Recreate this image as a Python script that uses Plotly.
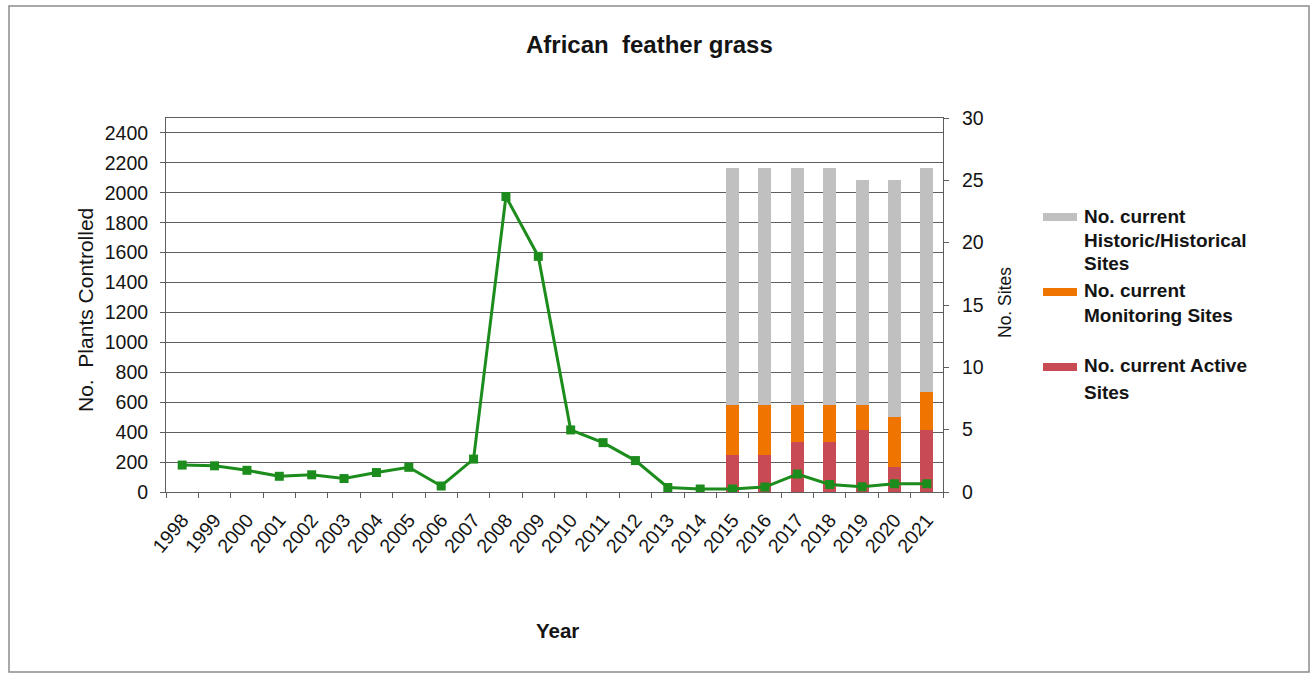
import plotly.graph_objects as go

# ---- data ----
years = [str(y) for y in range(1998, 2022)]
plants_controlled = [180, 175, 145, 105, 115, 90, 130, 165, 40, 220, 1975, 1575,
                     415, 330, 210, 30, 20, 20, 33, 120, 50, 35, 55, 55]

site_years = [str(y) for y in range(2015, 2022)]
active_sites = [3, 3, 4, 4, 5, 2, 5]
monitoring_sites = [4, 4, 3, 3, 2, 4, 3]
historic_sites = [19, 19, 19, 19, 18, 19, 18]

left_ticks = list(range(0, 2401, 200))
right_ticks = list(range(0, 31, 5))

# ---- styling ----
W, H = 1313, 675
PL, PR, PT, PB = 166, 943, 118, 492          # plot area in pixels
FONT = "Liberation Sans, Arial, sans-serif"
INK = "#141414"
GRID = "#5e5e5e"
C_HIST = "#c0c0c0"
C_MON = "#f07400"
C_ACT = "#c84a54"
C_LINE = "#1c8c1c"


def px(x):
    return (x - PL) / (PR - PL)


def py(y):
    return (PB - y) / (PB - PT)


fig = go.Figure()

# stacked site bars (right axis)
for name, vals, col in [
    ("No. current Active Sites", active_sites, C_ACT),
    ("No. current Monitoring Sites", monitoring_sites, C_MON),
    ("No. current Historic/Historical Sites", historic_sites, C_HIST),
]:
    fig.add_trace(go.Bar(x=site_years, y=vals, name=name, marker_color=col,
                         marker_line_width=0, width=0.4, yaxis="y",
                         showlegend=False))

# plants controlled line (left axis)
fig.add_trace(go.Scatter(x=years, y=plants_controlled, name="No. Plants Controlled",
                         mode="lines+markers", yaxis="y2",
                         line=dict(color=C_LINE, width=3),
                         marker=dict(symbol="square", size=9, color=C_LINE),
                         showlegend=False))

tickfont = dict(family=FONT, size=19.5, color=INK)

fig.update_layout(
    width=W, height=H,
    margin=dict(l=PL, r=W - PR, t=PT, b=H - PB),
    paper_bgcolor="white", plot_bgcolor="white",
    barmode="stack",
    showlegend=False,
    xaxis=dict(type="category", categoryorder="array", categoryarray=years,
               range=[-0.5, len(years) - 0.5],
               tickson="boundaries", ticks="outside", ticklen=5,
               tickcolor=GRID, showline=True, linecolor=GRID, linewidth=1,
               mirror=True, showgrid=False, tickangle=-50, tickfont=tickfont,
               ticklabelstandoff=8),
    yaxis=dict(side="right", range=[0, 30], tickvals=right_ticks,
               ticks="outside", ticklen=5, tickcolor=GRID, showline=True,
               linecolor=GRID, linewidth=1, showgrid=False, zeroline=False,
               tickfont=tickfont, ticklabelstandoff=9),
    yaxis2=dict(side="left", overlaying="y", range=[0, 2500], tickvals=left_ticks,
                ticks="outside", ticklen=5, tickcolor=GRID, showline=True,
                linecolor=GRID, linewidth=1, showgrid=True, gridcolor=GRID,
                gridwidth=1, zeroline=False, tickfont=tickfont,
                ticksuffix="\u00a0", ticklabelstandoff=8),
)

annotations = [
    dict(text="<b>African  feather grass</b>", x=px(649), y=py(44),
         font=dict(family=FONT, size=24, color=INK)),
    dict(text="<b>Year</b>", x=px(557), y=py(630),
         font=dict(family=FONT, size=20.5, color=INK)),
    dict(text="No.  Plants Controlled", x=px(85), y=py(310), textangle=-90,
         font=dict(family=FONT, size=21, color=INK)),
    dict(text="No. Sites", x=px(1005), y=py(302), textangle=-90,
         font=dict(family=FONT, size=17.5, color=INK)),
]

# legend entries: swatch + label lines
legend_items = [
    (C_HIST, 217, ["No. current", "Historic/Historical", "Sites"], [216, 240, 263]),
    (C_MON, 292, ["No. current", "Monitoring Sites"], [290, 315]),
    (C_ACT, 367, ["No. current Active", "Sites"], [365, 392]),
]
shapes = []
for col, sy, lines, ys in legend_items:
    shapes.append(dict(type="rect", xref="paper", yref="paper",
                       x0=px(1043), x1=px(1077), y0=py(sy + 4), y1=py(sy - 4),
                       fillcolor=col, line_width=0))
    for txt, ly in zip(lines, ys):
        annotations.append(dict(text=f"<b>{txt}</b>", x=px(1082), y=py(ly),
                                xanchor="left",
                                font=dict(family=FONT, size=19, color=INK)))

# outer chart frame
shapes.append(dict(type="rect", xref="paper", yref="paper",
                   x0=px(9), x1=px(1309), y0=py(672), y1=py(6),
                   line=dict(color="#8c8c8c", width=1.5), fillcolor="rgba(0,0,0,0)",
                   layer="below"))

for a in annotations:
    a.setdefault("xref", "paper")
    a.setdefault("yref", "paper")
    a.setdefault("showarrow", False)
    a.setdefault("xanchor", "center")
    a.setdefault("yanchor", "middle")

fig.update_layout(annotations=annotations, shapes=shapes)

fig.write_html("out.html")
